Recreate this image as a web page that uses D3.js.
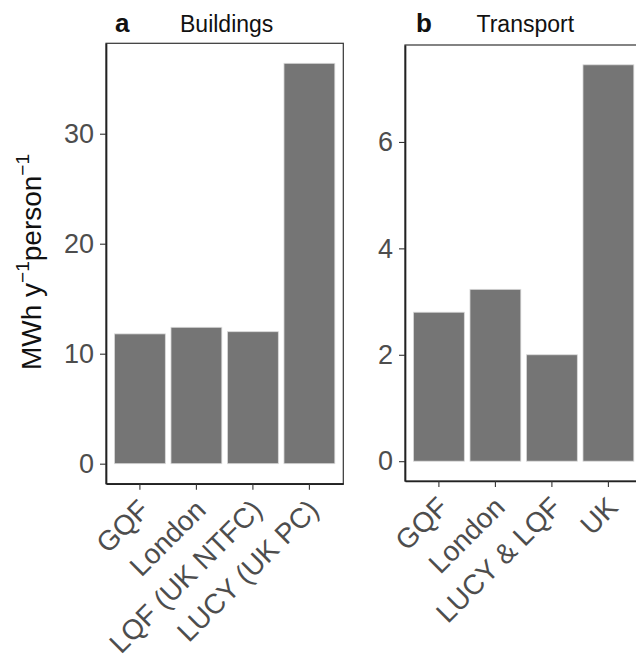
<!DOCTYPE html>
<html><head><meta charset="utf-8">
<script src="https://cdn.jsdelivr.net/npm/d3@7"></script>
<style>
html,body{margin:0;padding:0;background:#fff;}
svg{display:block;font-family:"Liberation Sans",Arial,sans-serif;}
</style></head>
<body><svg id="chart" width="636" height="661"></svg>
<script>
// Data
const buildingsCategories = ["GQF", "London", "LQF (UK NTFC)", "LUCY (UK PC)"];
const buildingsValues = [11.8, 12.4, 12.0, 36.4];
const buildingsTicks = [0, 10, 20, 30];

const transportCategories = ["GQF", "London", "LUCY & LQF", "UK"];
const transportValues = [2.8, 3.23, 2.0, 7.45];
const transportTicks = [0, 2, 4, 6];

const svg = d3.select("#chart");

function panel(cfg) {
  const {cats, vals, ticks, left, right, top, bottom, letter, title, letterX, titleX} = cfg;
  const g = svg.append("g");
  const maxV = d3.max(vals);
  const x = d3.scaleBand().domain(cats).range([left, right]).paddingInner(0.1).paddingOuter(0.15);
  const y = d3.scaleLinear().domain([-0.05 * maxV, 1.05 * maxV]).range([bottom, top]);

  // bars
  g.selectAll("rect.bar").data(vals).enter().append("rect")
    .attr("class", "bar")
    .attr("x", (d, i) => x(cats[i]))
    .attr("width", x.bandwidth())
    .attr("y", d => y(d))
    .attr("height", d => y(0) - y(d))
    .attr("fill", "#757575")
    .attr("stroke", "#d9d9d9")
    .attr("stroke-width", 0.8);

  // border
  g.append("rect").attr("x", left).attr("y", top)
    .attr("width", right - left).attr("height", bottom - top)
    .attr("fill", "none").attr("stroke", "#333").attr("stroke-width", 1.2);

  // y axis
  const ya = g.append("g").attr("transform", `translate(${left},0)`)
    .call(d3.axisLeft(y).tickValues(ticks).tickSize(6).tickSizeOuter(0).tickPadding(6).tickFormat(d3.format("d")));
  ya.select(".domain").attr("stroke", "#222").attr("stroke-width", 1.7);
  ya.selectAll(".tick line").attr("stroke", "#333").attr("stroke-width", 1.1);
  ya.selectAll(".tick text").attr("fill", "#4d4d4d").attr("font-size", 27)
    .attr("font-family", "Liberation Sans, Arial, sans-serif");

  // x axis
  const xa = g.append("g").attr("transform", `translate(0,${bottom})`)
    .call(d3.axisBottom(x).tickSize(6).tickSizeOuter(0).tickPadding(0));
  xa.select(".domain").attr("stroke", "#222").attr("stroke-width", 1.7);
  xa.selectAll(".tick line").attr("stroke", "#333").attr("stroke-width", 1.1);
  xa.selectAll(".tick text")
    .attr("fill", "#4d4d4d").attr("font-size", 28)
    .attr("font-family", "Liberation Sans, Arial, sans-serif")
    .attr("text-anchor", "end")
    .attr("y", 0).attr("dy", 0)
    .attr("transform", "translate(11,28) rotate(-45)");

  // titles
  g.append("text").attr("x", letterX).attr("y", 32)
    .attr("font-size", 26).attr("font-weight", "bold").attr("fill", "#111").text(letter);
  g.append("text").attr("x", titleX).attr("y", 32)
    .attr("font-size", 23).attr("fill", "#111").text(title);
  return {x, y};
}

panel({cats: buildingsCategories, vals: buildingsValues, ticks: buildingsTicks,
  left: 106, right: 343.3, top: 43.3, bottom: 483.7, letter: "a", title: "Buildings",
  letterX: 115, titleX: 180});
panel({cats: transportCategories, vals: transportValues, ticks: transportTicks,
  left: 405, right: 642.3, top: 45, bottom: 481, letter: "b", title: "Transport",
  letterX: 416, titleX: 476.5});

// y axis title
const yt = svg.append("text")
  .attr("transform", "translate(41,262) rotate(-90)")
  .attr("text-anchor", "middle")
  .attr("font-size", 28).attr("fill", "#111");
yt.append("tspan").text("MWh y");
yt.append("tspan").attr("font-size", 19).attr("dy", -12).text("\u22121");
yt.append("tspan").attr("dy", 12).text("person");
yt.append("tspan").attr("font-size", 19).attr("dy", -12).text("\u22121");
</script>
</body></html>
